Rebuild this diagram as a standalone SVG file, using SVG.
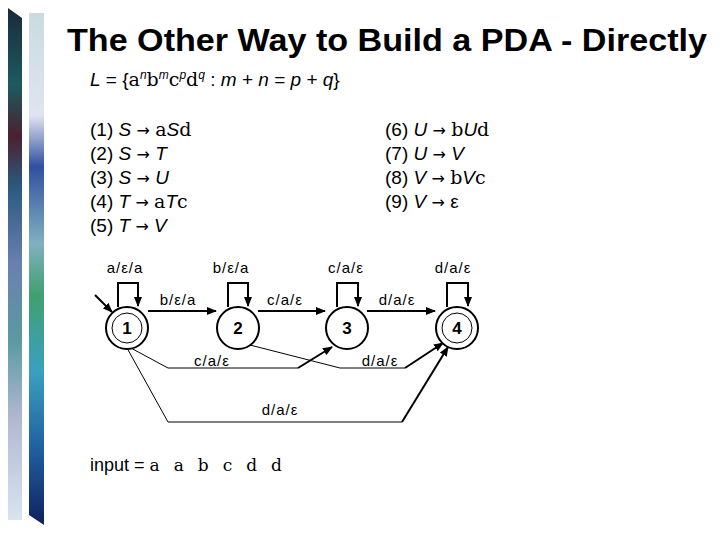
<svg xmlns="http://www.w3.org/2000/svg" width="720" height="540" viewBox="0 0 720 540">
<defs>
<linearGradient id="g1" x1="0" y1="0" x2="0" y2="1">
<stop offset="0" stop-color="#1a2a3a"/><stop offset="0.15" stop-color="#1e5a60"/><stop offset="0.25" stop-color="#4a2030"/><stop offset="0.35" stop-color="#2a5a80"/><stop offset="0.5" stop-color="#6a80b0"/><stop offset="0.65" stop-color="#5a9aa0"/><stop offset="0.8" stop-color="#b0b8d0"/><stop offset="1" stop-color="#d8e4f0"/>
</linearGradient>
<linearGradient id="g2" x1="0" y1="0" x2="0" y2="1">
<stop offset="0" stop-color="#c8dce0"/><stop offset="0.2" stop-color="#e0e4f0"/><stop offset="0.3" stop-color="#3050a0"/><stop offset="0.45" stop-color="#80b0c0"/><stop offset="0.55" stop-color="#40a070"/><stop offset="0.7" stop-color="#3aa0c0"/><stop offset="0.85" stop-color="#2060a0"/><stop offset="1" stop-color="#102060"/>
</linearGradient>
<marker id="ah" markerWidth="10" markerHeight="8" refX="9" refY="4" orient="auto" markerUnits="userSpaceOnUse"><path d="M0,0 L10,4 L0,8 z" fill="#000"/></marker>
<style>
.t{font-family:"Liberation Sans",Arial,sans-serif;fill:#000}
.r{font-family:"Liberation Sans",Arial,sans-serif;font-size:19px}
.tm{font-family:"DejaVu Serif","Liberation Serif",serif;font-weight:300}
.ar{font-family:"DejaVu Sans",sans-serif;font-size:16px}
.lb{font-family:"Liberation Sans",Arial,sans-serif;font-size:15px;text-anchor:middle;letter-spacing:1px}
.st{fill:#fff;stroke:#000;stroke-width:2}
.e{fill:none;stroke:#000;stroke-width:2;marker-end:url(#ah)}
.c{fill:none;stroke:#000;stroke-width:1}
.nl{font-family:"Liberation Sans",Arial,sans-serif;font-size:17px;font-weight:bold;text-anchor:middle}
</style>
</defs>
<polygon points="8,8 22,18 22,520 8,520" fill="url(#g1)"/>
<polygon points="29,13 44,13 44,525 29,515" fill="url(#g2)"/>
<text class="t" x="67" y="51" font-size="31" font-weight="bold" textLength="640" lengthAdjust="spacingAndGlyphs">The Other Way to Build a PDA - Directly</text>
<text class="t" x="90" y="86" font-size="19"><tspan font-style="italic">L</tspan> = {<tspan class="tm">a</tspan><tspan font-size="12" dy="-7" font-style="italic">n</tspan><tspan class="tm" dy="7">b</tspan><tspan font-size="12" dy="-7" font-style="italic">m</tspan><tspan class="tm" dy="7">c</tspan><tspan font-size="12" dy="-7" font-style="italic">p</tspan><tspan class="tm" dy="7">d</tspan><tspan font-size="12" dy="-7" font-style="italic">q</tspan><tspan dy="7"> : </tspan><tspan font-style="italic">m</tspan> + <tspan font-style="italic">n</tspan> = <tspan font-style="italic">p</tspan> + <tspan font-style="italic">q</tspan>}</text>
<g class="r">
<text x="90" y="136">(1) <tspan font-style="italic">S</tspan> <tspan class="ar">→</tspan> <tspan class="tm">a</tspan><tspan font-style="italic">S</tspan><tspan class="tm">d</tspan></text>
<text x="90" y="160">(2) <tspan font-style="italic">S</tspan> <tspan class="ar">→</tspan> <tspan font-style="italic">T</tspan></text>
<text x="90" y="184">(3) <tspan font-style="italic">S</tspan> <tspan class="ar">→</tspan> <tspan font-style="italic">U</tspan></text>
<text x="90" y="208">(4) <tspan font-style="italic">T</tspan> <tspan class="ar">→</tspan> <tspan class="tm">a</tspan><tspan font-style="italic">T</tspan><tspan class="tm">c</tspan></text>
<text x="90" y="232">(5) <tspan font-style="italic">T</tspan> <tspan class="ar">→</tspan> <tspan font-style="italic">V</tspan></text>
<text x="385" y="136">(6) <tspan font-style="italic">U</tspan> <tspan class="ar">→</tspan> <tspan class="tm">b</tspan><tspan font-style="italic">U</tspan><tspan class="tm">d</tspan></text>
<text x="385" y="160">(7) <tspan font-style="italic">U</tspan> <tspan class="ar">→</tspan> <tspan font-style="italic">V</tspan></text>
<text x="385" y="184">(8) <tspan font-style="italic">V</tspan> <tspan class="ar">→</tspan> <tspan class="tm">b</tspan><tspan font-style="italic">V</tspan><tspan class="tm">c</tspan></text>
<text x="385" y="208">(9) <tspan font-style="italic">V</tspan> <tspan class="ar">→</tspan> ε</text>
</g>
<g id="connectors">
<line class="e" x1="95" y1="295" x2="112" y2="312"/>
<path class="e" d="M118,307 V283 H138 V306"/>
<path class="e" d="M228,307 V283 H248 V306"/>
<path class="e" d="M337,307 V283 H358 V306"/>
<path class="e" d="M447,307 V283 H468 V306"/>
<line class="e" x1="148" y1="311" x2="216" y2="311"/>
<line class="e" x1="258" y1="311" x2="325" y2="311"/>
<line class="e" x1="367" y1="311" x2="435" y2="311"/>
<path class="c" d="M129,347 L168,368 H298"/>
<line class="e" x1="298" y1="368" x2="332" y2="347"/>
<path class="c" d="M250,345 L340,368 H405"/>
<line class="e" x1="405" y1="368" x2="443" y2="343"/>
<path class="c" d="M127,348 L168,422 H402"/>
<line class="e" x1="402" y1="422" x2="448" y2="347"/>
</g>
<g id="labels">
<text class="lb" x="125" y="273">a/ε/a</text>
<text class="lb" x="231" y="273">b/ε/a</text>
<text class="lb" x="346" y="273">c/a/ε</text>
<text class="lb" x="453" y="273">d/a/ε</text>
<text class="lb" x="178" y="305">b/ε/a</text>
<text class="lb" x="285" y="305">c/a/ε</text>
<text class="lb" x="397" y="305">d/a/ε</text>
<text class="lb" x="212" y="366">c/a/ε</text>
<text class="lb" x="380" y="366">d/a/ε</text>
<text class="lb" x="280" y="415">d/a/ε</text>
</g>
<g id="n1"><circle class="st" cx="127" cy="328" r="21"/><circle fill="none" stroke="#000" cx="127" cy="328" r="15"/><text class="nl" x="127" y="334">1</text></g>
<g id="n2"><circle class="st" cx="238" cy="328" r="21"/><text class="nl" x="238" y="334">2</text></g>
<g id="n3"><circle class="st" cx="347" cy="328" r="21"/><text class="nl" x="347" y="334">3</text></g>
<g id="n4"><circle class="st" cx="457" cy="328" r="21"/><circle fill="none" stroke="#000" cx="457" cy="328" r="15"/><text class="nl" x="457" y="334">4</text></g>
<text class="t" x="90" y="471" font-size="18">input = <tspan class="tm" font-size="17" style="letter-spacing:14px">aabcdd</tspan></text>
</svg>
